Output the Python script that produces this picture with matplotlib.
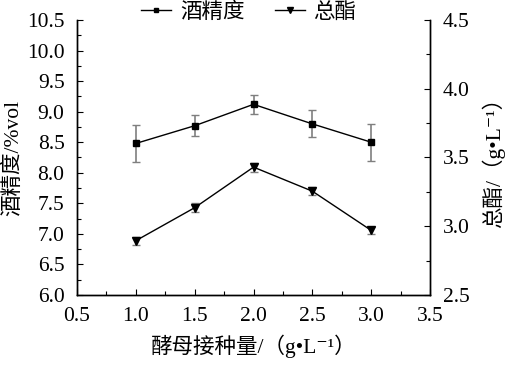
import matplotlib
matplotlib.use("Agg")
import matplotlib.pyplot as plt
from matplotlib.ticker import MultipleLocator
from matplotlib.lines import Line2D

plt.rcParams['font.family'] = ['Liberation Serif', 'Noto Sans CJK SC', 'DejaVu Serif']
plt.rcParams['font.size'] = 15.5

# yeast inoculum (g/L)
dose = [1.0, 1.5, 2.0, 2.5, 3.0]
# alcohol (%vol) and error
alcohol = [8.48, 8.77, 9.12, 8.80, 8.50]
alcohol_err = [0.30, 0.17, 0.16, 0.22, 0.30]
# total ester (g/L) and error
ester = [2.895, 3.135, 3.43, 3.255, 2.97]
ester_err = [0.03, 0.035, 0.033, 0.03, 0.025]

fig = plt.figure(figsize=(5.08, 3.65), dpi=100)
ax = fig.add_axes([0.1516, 0.1918, 0.6949, 0.7534])
ax2 = ax.twinx()

ax.errorbar(dose, alcohol, yerr=alcohol_err, color='black', marker='s', markersize=5,
            lw=1.0, ecolor='#7f7f7f', elinewidth=1.2, capsize=3, capthick=1.0)
ax2.errorbar(dose, ester, yerr=ester_err, color='black', marker='v', markersize=6,
             lw=1.0, ecolor='#7f7f7f', elinewidth=1.2, capsize=3, capthick=1.0)

ax.set_xlim(0.5, 3.5)
ax.set_ylim(6.0, 10.5)
ax2.set_ylim(2.5, 4.5)
ax.xaxis.set_major_locator(MultipleLocator(0.5))
ax.xaxis.set_minor_locator(MultipleLocator(0.25))
ax.yaxis.set_major_locator(MultipleLocator(0.5))
ax.yaxis.set_minor_locator(MultipleLocator(0.25))
ax2.yaxis.set_major_locator(MultipleLocator(0.5))
ax2.yaxis.set_minor_locator(MultipleLocator(0.25))
ax.xaxis.set_major_formatter(plt.FormatStrFormatter('%.1f'))
ax.yaxis.set_major_formatter(plt.FormatStrFormatter('%.1f'))
ax2.yaxis.set_major_formatter(plt.FormatStrFormatter('%.1f'))

for a in (ax, ax2):
    a.spines['top'].set_visible(False)
    for s in a.spines.values():
        s.set_linewidth(1.0)
    a.tick_params(which='both', direction='in', width=0.8, pad=9)
    a.tick_params(which='major', length=4)
    a.tick_params(which='minor', length=3)
ax.tick_params(which='both', top=False, right=False)

ax.set_xlabel('酵母接种量/（g•L⁻¹）', labelpad=6)
ax.set_ylabel('酒精度/%vol')
ax.yaxis.set_label_coords(-0.153, 0.5)
ax2.set_ylabel('总酯/（g•L⁻¹）', rotation=90)
ax2.yaxis.set_label_coords(1.147, 0.5)

handles = [Line2D([], [], color='black', marker='s', markersize=3, lw=1.0),
           Line2D([], [], color='black', marker='v', markersize=4, lw=1.0)]
fig.legend(handles, ['酒精度', '总酯'], loc='center', bbox_to_anchor=(0.49, 0.965),
           ncol=2, frameon=False, handlelength=1.4, handletextpad=0.4,
           columnspacing=1.4, borderpad=0)

fig.savefig('out.png', dpi=100)
